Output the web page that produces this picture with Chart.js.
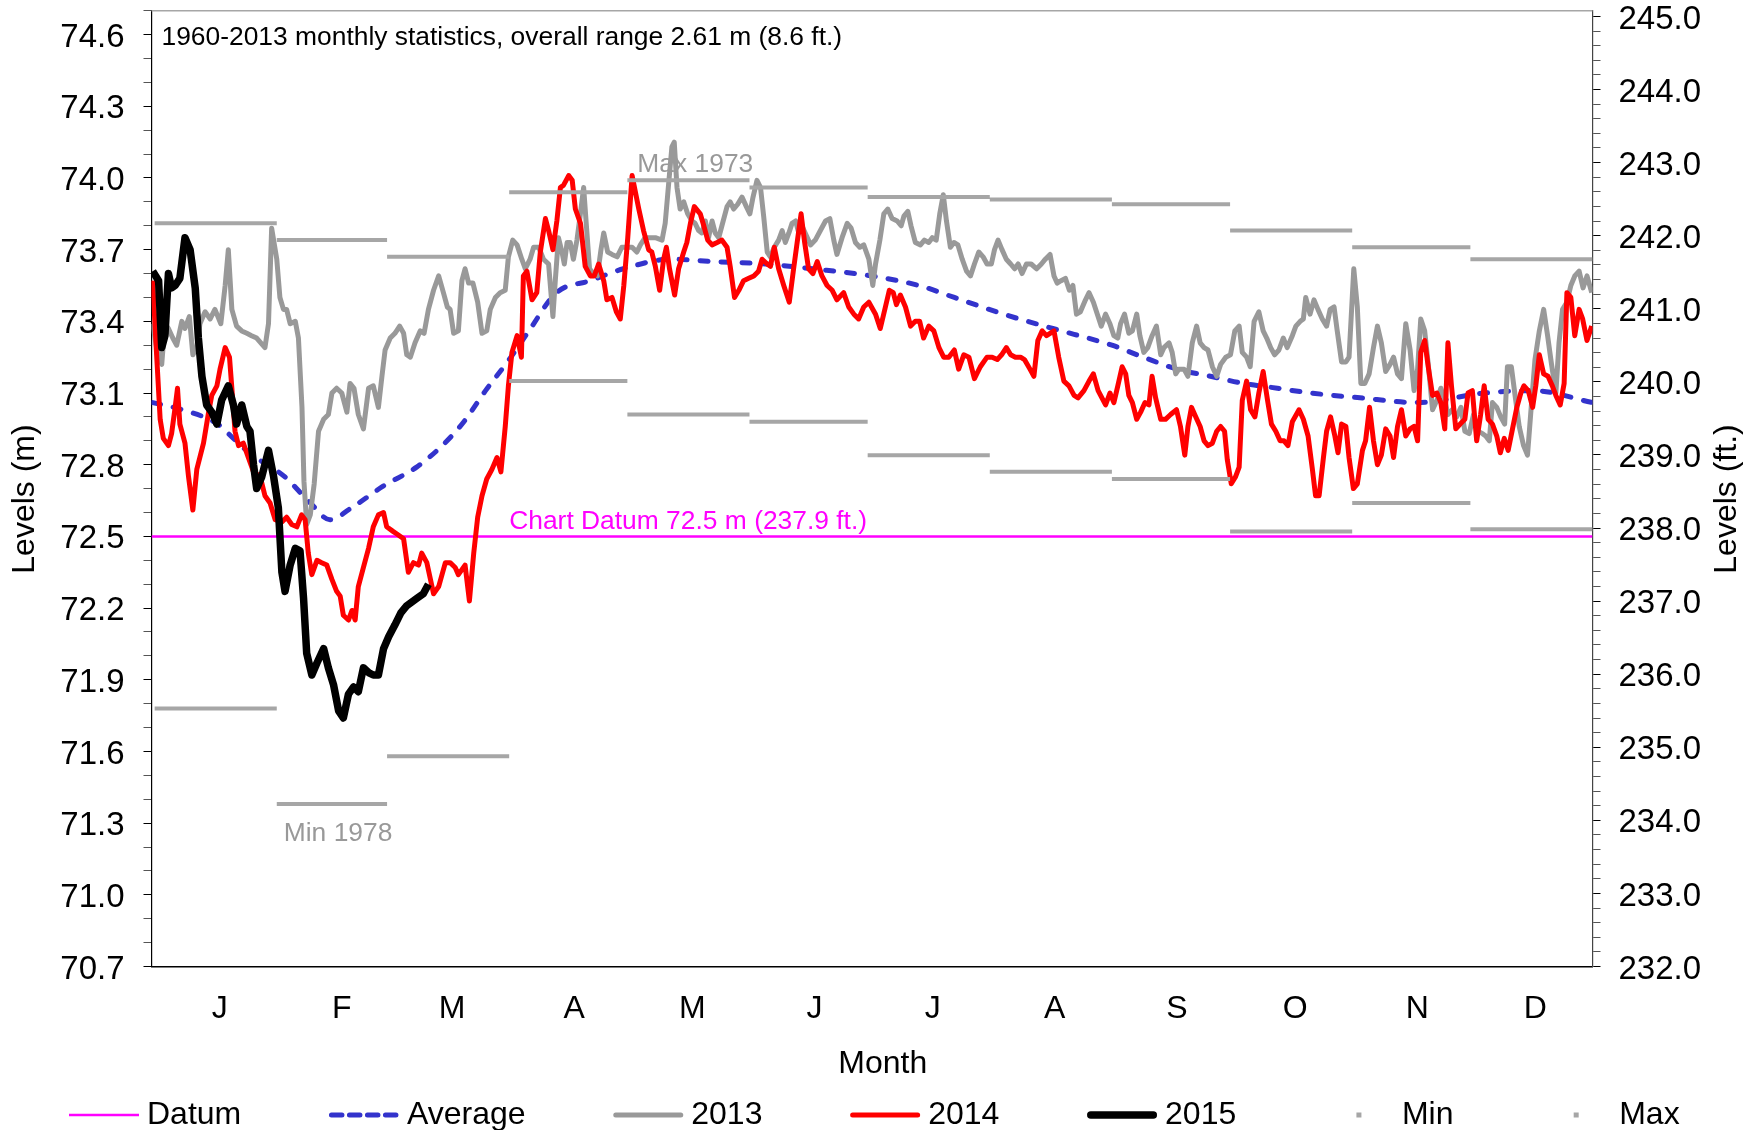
<!DOCTYPE html>
<html>
<head>
<meta charset="utf-8">
<script src="https://cdn.jsdelivr.net/npm/chart.js@4.4.1/dist/chart.umd.min.js"></script>
<style>
html,body{margin:0;padding:0;background:#fff;}
#wrap{width:1760px;height:1130px;}
</style>
</head>
<body>
<div id="wrap"><canvas id="c" width="1760" height="1130"></canvas></div>
<script>
// ---------------- DATA ----------------
const monthLabels = ['J','F','M','A','M','J','J','A','S','O','N','D'];
const monthStarts = [0,31,59,90,120,151,181,212,243,273,304,334];
const monthEnds   = [31,59,90,120,151,181,212,243,273,304,334,365];
const maxLevels = [73.81,73.74,73.67,73.94,73.99,73.96,73.92,73.91,73.89,73.78,73.71,73.66];
const minLevels = [71.78,71.38,71.58,73.15,73.01,72.98,72.84,72.77,72.74,72.52,72.64,72.53];
const datumLevel = 72.5;
const leftMajorTicks = [70.7,71.0,71.3,71.6,71.9,72.2,72.5,72.8,73.1,73.4,73.7,74.0,74.3,74.6];
const rightMajorTicks = [232,233,234,235,236,237,238,239,240,241,242,243,244,245];

const noteText  = '1960-2013 monthly statistics, overall range 2.61 m (8.6 ft.)';
const maxNote   = 'Max 1973';
const minNote   = 'Min 1978';
const datumNote = 'Chart Datum 72.5 m (237.9 ft.)';

// [day of year, level in m]
const averageLevels = [[-0.5,73.06],[7,73.03],[16,72.97],[20,72.91],[24,72.85],[33,72.75],[39.5,72.64],[44.5,72.57],[50,72.62],[58,72.71],[66.5,72.79],[73,72.88],[78.5,72.98],[84,73.11],[90,73.24],[95,73.36],[102,73.52],[110.5,73.57],[119,73.62],[131,73.66],[142,73.65],[155,73.64],[167,73.62],[182,73.59],[194,73.55],[203,73.50],[215.5,73.43],[228,73.37],[243,73.30],[251,73.25],[259.5,73.20],[268,73.17],[276.5,73.14],[285,73.12],[293.5,73.10],[306,73.08],[320.5,73.06],[337.5,73.10],[350,73.11],[365,73.06]];

const levels2013 = [[-0.5,73.39],[0.5,73.29],[1.8,73.22],[2.6,73.39],[3.5,73.37],[4.6,73.33],[5.6,73.30],[6.9,73.40],[7.7,73.37],[8.8,73.42],[9.7,73.26],[10.7,73.29],[11.5,73.39],[12.8,73.44],[14.1,73.41],[15.3,73.45],[16.8,73.39],[17.9,73.55],[18.7,73.70],[19.6,73.45],[20.8,73.38],[22.1,73.36],[23.4,73.35],[24.6,73.34],[25.9,73.33],[28,73.29],[28.9,73.39],[29.7,73.79],[31,73.66],[31.8,73.50],[32.7,73.45],[33.5,73.45],[34.4,73.39],[35.7,73.40],[36.5,73.33],[37.4,73.04],[37.9,72.73],[38.6,72.55],[39.5,72.59],[40.5,72.72],[41.6,72.94],[42.9,72.99],[44.1,73.01],[45,73.10],[46.2,73.12],[47.5,73.10],[48.8,73.02],[49.6,73.14],[50.6,73.12],[51.7,73.01],[53,72.95],[54.3,73.12],[55.5,73.13],[56.8,73.04],[57.7,73.17],[58.5,73.28],[59.8,73.33],[61,73.35],[62.2,73.38],[63.2,73.35],[64,73.26],[64.9,73.25],[66.1,73.31],[67.4,73.36],[68.4,73.35],[69.5,73.45],[70.8,73.53],[72.1,73.59],[73.3,73.52],[74.3,73.46],[75,73.45],[75.9,73.35],[77.1,73.36],[78,73.57],[78.8,73.62],[79.7,73.56],[80.8,73.56],[82,73.48],[83.1,73.35],[84.3,73.36],[85.2,73.45],[86.5,73.50],[87.7,73.52],[89,73.53],[89.8,73.67],[90.9,73.74],[92,73.72],[93.2,73.66],[94.1,73.62],[95.3,73.66],[96.2,73.71],[97.5,73.71],[98.7,73.66],[100,73.64],[101.1,73.42],[101.7,73.57],[102.5,73.75],[103.4,73.69],[104,73.64],[104.7,73.73],[105.5,73.73],[106.3,73.66],[107.2,73.74],[108,73.84],[108.9,73.96],[109.6,73.80],[110.4,73.62],[111.4,73.60],[112.4,73.59],[113.3,73.70],[114,73.77],[115,73.69],[116.1,73.68],[117.4,73.67],[118.6,73.71],[119.9,73.71],[121.2,73.71],[122.4,73.69],[123.3,73.72],[124.5,73.75],[125.8,73.75],[127.1,73.75],[128.8,73.74],[129.6,73.81],[130.5,73.98],[131.3,74.13],[131.9,74.15],[132.6,73.96],[133.4,73.87],[134.3,73.90],[135.3,73.85],[136.4,73.82],[137.2,73.81],[138.1,73.78],[138.9,73.77],[139.8,73.82],[140.6,73.75],[141.5,73.82],[142.3,73.77],[143.2,73.75],[144,73.80],[145.3,73.88],[146.1,73.90],[147,73.87],[148,73.89],[149.1,73.92],[150.2,73.88],[151.1,73.85],[151.9,73.92],[152.9,73.99],[153.8,73.96],[154.6,73.84],[155.5,73.69],[156.3,73.67],[157.3,73.71],[158.4,73.74],[159.3,73.78],[160.1,73.73],[161,73.77],[161.8,73.81],[162.7,73.82],[163.5,73.77],[164.3,73.80],[165.4,73.76],[166.5,73.72],[167.7,73.74],[169,73.78],[170.3,73.82],[171.4,73.83],[172.4,73.74],[173.2,73.68],[174.5,73.75],[175.8,73.81],[176.8,73.79],[177.9,73.73],[179,73.71],[180,73.72],[181.3,73.66],[182.3,73.55],[183,73.64],[184.1,73.74],[185.1,73.85],[186.1,73.87],[187.2,73.83],[188.5,73.82],[189.5,73.80],[190.2,73.84],[191.2,73.86],[192,73.80],[193.1,73.73],[194.4,73.72],[195.4,73.74],[196.5,73.73],[197.4,73.75],[198.4,73.74],[199.3,73.85],[200.2,73.93],[201,73.82],[202,73.71],[202.9,73.73],[203.9,73.72],[205,73.66],[206.1,73.61],[207.1,73.59],[208.1,73.64],[209.2,73.69],[210.3,73.67],[211.3,73.64],[212.4,73.64],[213.2,73.70],[214.1,73.74],[215.1,73.70],[216.2,73.66],[217.3,73.64],[218.3,73.62],[219.2,73.64],[220.2,73.60],[221.3,73.64],[222.5,73.64],[223.9,73.62],[225.1,73.64],[226.1,73.66],[227.3,73.68],[228.3,73.59],[229.1,73.56],[230.1,73.57],[231.2,73.58],[232.2,73.53],[233.1,73.55],[234,73.43],[235,73.44],[236.3,73.49],[237.2,73.52],[238.3,73.48],[239.3,73.43],[240.3,73.38],[241.4,73.43],[242.5,73.39],[243.5,73.34],[244.5,73.33],[245.2,73.39],[246.2,73.43],[247.3,73.35],[248.2,73.36],[249.3,73.43],[250.1,73.34],[251.1,73.27],[252.1,73.29],[253.2,73.34],[254.3,73.38],[255.4,73.26],[256.2,73.29],[257.5,73.31],[258.3,73.27],[259.2,73.18],[260,73.20],[261.3,73.20],[262.3,73.17],[263.4,73.31],[264.5,73.38],[265.4,73.31],[266.4,73.29],[267.4,73.28],[268.5,73.21],[269.6,73.17],[270.6,73.22],[271.9,73.25],[273.1,73.26],[274.2,73.36],[275.3,73.38],[276.1,73.27],[277.2,73.25],[278.1,73.21],[279.1,73.40],[280.3,73.44],[281.4,73.36],[282.3,73.33],[283.3,73.29],[284.3,73.26],[285.4,73.28],[286.5,73.33],[287.5,73.29],[288.8,73.34],[289.7,73.38],[290.8,73.40],[291.6,73.41],[292.2,73.50],[293.3,73.43],[294.3,73.49],[295.3,73.45],[296.4,73.41],[297.5,73.38],[298.4,73.45],[299.4,73.46],[300.2,73.36],[301.3,73.23],[302.4,73.23],[303.2,73.25],[304.4,73.62],[305.3,73.46],[306.2,73.14],[307.2,73.14],[308.3,73.18],[309.4,73.29],[310.4,73.38],[311.4,73.31],[312.5,73.19],[313.6,73.22],[314.5,73.25],[315.5,73.18],[316.5,73.16],[317.6,73.39],[318.7,73.28],[319.7,73.11],[320.6,73.20],[321.4,73.41],[322.4,73.36],[323.3,73.22],[324.4,73.03],[325.5,73.07],[326.5,73.12],[327.5,73.07],[328.3,73.01],[329.4,73.03],[330.5,73.00],[331.6,73.04],[332.6,72.94],[333.7,72.93],[334.8,73.01],[335.9,72.94],[337.1,72.93],[337.9,72.92],[338.8,72.90],[339.6,73.06],[340.7,73.04],[341.7,73.00],[342.7,72.97],[343.4,73.21],[344.4,73.21],[345.5,73.07],[346.4,72.96],[347.5,72.88],[348.5,72.84],[349.3,73.01],[350.4,73.24],[351.5,73.36],[352.6,73.45],[353.6,73.34],[354.6,73.22],[355.7,73.10],[356.5,73.31],[357.4,73.45],[358.5,73.48],[359.5,73.55],[360.5,73.59],[361.6,73.61],[362.6,73.54],[363.6,73.59],[364.8,73.52]];

const levels2014 = [[-0.5,73.57],[0.5,73.26],[1.4,72.99],[2.2,72.91],[3.5,72.88],[4.3,72.93],[5.2,73.04],[5.8,73.12],[6.4,72.97],[7.7,72.89],[8.6,72.75],[9.7,72.61],[10.7,72.78],[12.4,72.89],[13.6,73.01],[14.5,73.09],[15.8,73.13],[16.6,73.20],[17.9,73.29],[19,73.25],[19.6,73.12],[20.4,72.94],[21.3,72.88],[22.5,72.89],[23.8,72.83],[25.1,72.77],[26.8,72.75],[28,72.67],[29.3,72.64],[30.6,72.57],[32.3,72.56],[33.5,72.58],[34.8,72.55],[36.1,72.54],[37.3,72.59],[38.2,72.57],[39,72.43],[39.9,72.34],[41.2,72.40],[42.4,72.39],[43.7,72.38],[45,72.32],[46.2,72.27],[47.1,72.25],[47.9,72.17],[49.2,72.15],[50.1,72.19],[50.9,72.15],[51.7,72.29],[53,72.37],[54.3,72.45],[55.5,72.54],[56.8,72.59],[58.1,72.60],[58.9,72.54],[60.6,72.52],[61.5,72.51],[63.2,72.49],[64.4,72.35],[65.7,72.39],[67,72.38],[67.8,72.43],[69.1,72.39],[70.8,72.26],[72.1,72.29],[73.8,72.39],[75,72.39],[76.3,72.37],[77.1,72.34],[78.8,72.38],[79.9,72.23],[81,72.43],[82,72.58],[83.1,72.67],[84.3,72.74],[85.6,72.78],[86.9,72.83],[87.9,72.77],[89,72.96],[89.8,73.13],[90.7,73.27],[92,73.34],[93.1,73.25],[93.6,73.59],[94.5,73.61],[95.8,73.49],[97,73.52],[97.9,73.69],[99.2,73.83],[100,73.78],[101.1,73.70],[102.1,73.82],[103,73.96],[103.8,73.97],[105.1,74.01],[106,73.99],[106.8,73.87],[108.1,73.81],[109.3,73.63],[110.6,73.59],[111.6,73.59],[112.7,73.64],[114,73.57],[114.8,73.49],[116.1,73.50],[117.2,73.44],[118.2,73.41],[119.1,73.55],[120.1,73.75],[121.2,74.01],[122.9,73.87],[124.1,73.78],[125.4,73.70],[126.2,73.69],[127.1,73.63],[128.2,73.53],[129.2,73.66],[129.9,73.71],[130.7,73.62],[132,73.51],[133,73.62],[134.3,73.69],[135.1,73.73],[136,73.81],[137,73.88],[138.5,73.85],[139.4,73.80],[140.4,73.74],[141.5,73.72],[142.8,73.73],[144,73.74],[145.3,73.71],[146.1,73.63],[147.2,73.50],[148.3,73.53],[149.5,73.57],[150.8,73.58],[152.1,73.59],[153.3,73.61],[154.2,73.66],[155.5,73.64],[156.3,73.63],[157.3,73.71],[158.4,73.62],[159.7,73.55],[161.1,73.48],[162.2,73.62],[163.1,73.73],[164.1,73.85],[165,73.73],[166,73.62],[167.1,73.60],[168.2,73.65],[169.4,73.59],[170.7,73.55],[172,73.53],[173.2,73.49],[174.9,73.52],[176.2,73.46],[177.5,73.43],[178.7,73.41],[180,73.46],[181.3,73.48],[183,73.43],[184.2,73.37],[185.5,73.46],[186.5,73.53],[187.5,73.52],[188.3,73.47],[189.3,73.51],[190.6,73.46],[191.9,73.38],[193.1,73.40],[194.2,73.40],[195.2,73.33],[196.5,73.38],[197.8,73.36],[199.1,73.29],[200.3,73.25],[201.6,73.25],[203,73.28],[204.1,73.20],[205.4,73.26],[206.7,73.25],[208.1,73.16],[209.6,73.21],[211.3,73.25],[212.6,73.25],[213.9,73.24],[215,73.26],[216.2,73.29],[217.3,73.26],[218.5,73.25],[219.8,73.25],[220.8,73.24],[222.2,73.20],[223.2,73.17],[224.2,73.32],[225.3,73.36],[226.4,73.34],[228.3,73.36],[229.5,73.25],[230.8,73.15],[232.1,73.13],[233.4,73.09],[234.4,73.08],[235.9,73.11],[237.2,73.15],[238.3,73.18],[239.5,73.11],[241.4,73.05],[242.5,73.10],[243.5,73.06],[244.5,73.13],[245.6,73.21],[246.5,73.18],[247.3,73.09],[248.2,73.06],[249.3,72.99],[250.3,73.02],[251.4,73.06],[252.4,73.05],[253.2,73.17],[254.1,73.08],[255.4,72.99],[256.6,72.99],[257.9,73.01],[259.4,73.03],[260.4,72.96],[261.5,72.84],[262.3,72.96],[263.2,73.04],[264.3,73.00],[265.4,72.96],[266.4,72.90],[267.4,72.88],[268.5,72.89],[269.6,72.94],[270.6,72.96],[271.6,72.94],[272.3,72.82],[273.3,72.72],[274.4,72.75],[275.3,72.79],[276.1,73.07],[277.2,73.15],[278.2,73.03],[279.3,73.00],[280.3,73.10],[281.4,73.19],[282.5,73.07],[283.5,72.97],[284.6,72.94],[285.7,72.90],[286.7,72.90],[287.7,72.88],[288.8,72.98],[290.5,73.03],[291.6,72.99],[292.8,72.92],[293.9,72.78],[294.7,72.67],[295.6,72.67],[296.7,72.83],[297.5,72.94],[298.5,73.00],[299.6,72.92],[300.4,72.85],[301.3,72.97],[302.4,72.96],[303.2,72.83],[304.3,72.70],[305.3,72.72],[306.6,72.86],[307.4,72.90],[308.4,73.04],[309.4,72.90],[310.4,72.80],[311.4,72.84],[312.5,72.95],[313.6,72.92],[314.5,72.83],[315.5,72.96],[316.5,73.03],[317.6,72.92],[318.7,72.95],[319.7,72.96],[320.6,72.90],[321.4,73.27],[322.4,73.32],[323.3,73.21],[324.4,73.09],[325.5,73.10],[326.5,73.06],[327.5,72.95],[328.3,73.31],[329.2,73.13],[330.3,72.95],[331.4,72.97],[332.6,72.99],[333.4,73.10],[334.5,73.11],[335.6,72.90],[336.6,73.01],[337.5,73.13],[338.5,72.99],[339.6,72.97],[340.7,72.92],[341.6,72.85],[342.6,72.91],[343.6,72.86],[344.7,72.95],[345.8,73.04],[346.8,73.10],[347.6,73.13],[348.7,73.11],[349.8,73.04],[350.6,73.13],[351.5,73.26],[352.6,73.18],[353.7,73.17],[354.8,73.13],[355.7,73.09],[356.8,73.05],[357.8,73.14],[358.5,73.52],[359.5,73.50],[360.5,73.34],[361.6,73.45],[362.5,73.41],[363.6,73.32],[364.8,73.38]];

const levels2015 = [[-0.5,73.61],[1,73.57],[1.8,73.29],[2.6,73.34],[3.5,73.60],[4.3,73.54],[5.2,73.55],[6.4,73.58],[7.7,73.75],[9,73.70],[10.3,73.54],[11.1,73.33],[12,73.17],[13.2,73.05],[14.5,73.02],[15.8,72.97],[17,73.07],[18.7,73.13],[20,73.05],[20.8,72.97],[22.1,73.05],[23.4,72.96],[24.2,72.94],[25.1,72.80],[25.9,72.70],[27.2,72.75],[28.9,72.86],[30.2,72.75],[31.4,72.62],[32.3,72.35],[33.1,72.27],[34.4,72.38],[35.7,72.45],[36.9,72.44],[37.8,72.24],[38.6,72.01],[39.9,71.92],[41.2,71.97],[42.9,72.03],[44.1,71.95],[45.4,71.88],[46.7,71.77],[47.9,71.74],[49.2,71.84],[50.5,71.87],[51.7,71.85],[53,71.95],[54.3,71.93],[55.5,71.92],[56.8,71.92],[58.1,72.03],[59.4,72.08],[61,72.13],[62.5,72.18],[64,72.21],[66.5,72.24],[68.2,72.26],[69.5,72.30]];

// ---------------- SETUP ----------------
const FONT = '"Liberation Sans", Arial, Helvetica, sans-serif';
Chart.defaults.font.family = FONT;
Chart.defaults.color = '#000';

const X_MIN = -0.8, X_MAX = 365;
const Y_MIN = 70.7, Y_MAX = 74.7;
const FT_MIN = 232.0, FT_MAX = 74.7 * 3.28084;
const MONTH_LABEL_OFFSET = 16.5;

const leftTickValues = [];
for (let i = 0; i <= 40; i++) leftTickValues.push(Math.round((Y_MIN + i * 0.1) * 10) / 10);
const rightTickValues = [];
for (let i = 0; i <= 65; i++) rightTickValues.push(Math.round((232 + i * 0.2) * 10) / 10);

const isIn = (arr, v) => arr.some(m => Math.abs(m - v) < 1e-6);
const toXY = arr => arr.map(p => ({x: p[0], y: p[1]}));
const stepData = levels => {
  const out = [];
  levels.forEach((v, i) => {
    out.push({x: monthStarts[i], y: v}, {x: monthEnds[i], y: v}, {x: monthEnds[i], y: null});
  });
  return out;
};

const LAYOUT = {
  leftAxisWidth: 151.5, rightAxisWidth: 167.5, xAxisHeight: 120,
  padTop: 10.7, padBottom: 43.5,
  legend: {x0: 69, y: 1115, sym: 70, gap: 8, pad: 87.7, dash: [10.5, 7.5], font: 32},
  titleFont: 32,
  titleLeft: {x: 25, y: 499}, titleRight: {x: 1727, y: 499}, titleX: {x: 882.8, y: 1064}
};

const legendItems = [
  {label: 'Datum', kind: 'line'}, {label: 'Average', kind: 'line'},
  {label: '2013', kind: 'line'}, {label: '2014', kind: 'line'}, {label: '2015', kind: 'line'},
  {label: 'Min', kind: 'dot'}, {label: 'Max', kind: 'dot'}
];

const overlayPlugin = {
  id: 'overlay',
  beforeDatasetsDraw(chart) {
    const {ctx, chartArea, scales} = chart;
    const xs = scales.x, ys = scales.y;
    ctx.save();
    ctx.strokeStyle = '#a6a6a6';
    ctx.lineWidth = 1.5;
    ctx.beginPath();
    ctx.moveTo(chartArea.left, chartArea.top);
    ctx.lineTo(chartArea.right, chartArea.top);
    ctx.stroke();

    ctx.font = '26.4px ' + FONT;
    ctx.textBaseline = 'middle';
    ctx.textAlign = 'left';
    ctx.fillStyle = '#000';
    ctx.fillText(noteText, chartArea.left + 10, chartArea.top + 27);
    ctx.fillStyle = '#999999';
    ctx.fillText(maxNote, xs.getPixelForValue(monthStarts[4]) + 10, ys.getPixelForValue(maxLevels[4]) - 16);
    ctx.fillText(minNote, xs.getPixelForValue(monthStarts[1]) + 7, ys.getPixelForValue(minLevels[1]) + 29.5);
    ctx.fillStyle = '#ff00ff';
    ctx.fillText(datumNote, xs.getPixelForValue(monthStarts[3]), ys.getPixelForValue(datumLevel) - 14.7);
    ctx.restore();
  },
  afterDraw(chart) {
    const ctx = chart.ctx;
    ctx.save();
    ctx.font = LAYOUT.titleFont + 'px ' + FONT;
    ctx.fillStyle = '#000';
    ctx.textAlign = 'center';
    ctx.textBaseline = 'middle';
    // axis titles
    ctx.save();
    ctx.translate(LAYOUT.titleLeft.x, LAYOUT.titleLeft.y);
    ctx.rotate(-Math.PI / 2);
    ctx.fillText('Levels (m)', 0, 0);
    ctx.restore();
    ctx.save();
    ctx.translate(LAYOUT.titleRight.x, LAYOUT.titleRight.y);
    ctx.rotate(-Math.PI / 2);
    ctx.fillText('Levels (ft.)', 0, 0);
    ctx.restore();
    ctx.fillText('Month', LAYOUT.titleX.x, LAYOUT.titleX.y);

    // legend
    const L = LAYOUT.legend;
    ctx.font = L.font + 'px ' + FONT;
    ctx.textAlign = 'left';
    let x = L.x0;
    const y = L.y;
    legendItems.forEach(item => {
      const ds = chart.data.datasets.find(d => d.label === item.label);
      ctx.strokeStyle = ds.borderColor;
      ctx.fillStyle = ds.borderColor;
      if (item.kind === 'line') {
        const round = item.label !== 'Datum';
        ctx.lineWidth = ds.borderWidth;
        ctx.lineCap = round ? 'round' : 'butt';
        ctx.setLineDash(ds.borderDash ? L.dash : []);
        const inset = round ? ds.borderWidth / 2 : 0;
        ctx.beginPath();
        ctx.moveTo(x + inset, y);
        ctx.lineTo(x + L.sym - inset, y);
        ctx.stroke();
        ctx.setLineDash([]);
      } else {
        ctx.fillRect(x + L.sym / 2 - 2.5, y - 2.5, 5, 5);
      }
      ctx.fillStyle = '#000';
      const tx = x + L.sym + L.gap;
      ctx.fillText(item.label, tx, y);
      x = tx + ctx.measureText(item.label).width + L.pad;
    });
    ctx.restore();
  }
};

const lineBase = {pointRadius: 0, pointHoverRadius: 0, fill: false, tension: 0, spanGaps: false,
  borderJoinStyle: 'round', xAxisID: 'x', yAxisID: 'y'};

const tickColor = ctx => (ctx.tick && ctx.tick.label) ? '#000000' : '#555555';

new Chart(document.getElementById('c'), {
  type: 'line',
  data: {
    datasets: [
      Object.assign({}, lineBase, {label: 'Datum', data: [{x: X_MIN, y: datumLevel}, {x: X_MAX, y: datumLevel}],
        borderColor: '#ff00ff', borderWidth: 2.5, order: 7}),
      Object.assign({}, lineBase, {label: 'Average', data: toXY(averageLevels), borderColor: '#3333cc',
        borderWidth: 5, borderDash: [8, 13], borderCapStyle: 'round', cubicInterpolationMode: 'monotone', order: 6}),
      Object.assign({}, lineBase, {label: '2013', data: toXY(levels2013), borderColor: '#999999', borderWidth: 5, order: 5}),
      Object.assign({}, lineBase, {label: '2014', data: toXY(levels2014), borderColor: '#ff0000', borderWidth: 5, order: 4}),
      Object.assign({}, lineBase, {label: '2015', data: toXY(levels2015), borderColor: '#000000', borderWidth: 7.5, order: 3}),
      Object.assign({}, lineBase, {label: 'Min', data: stepData(minLevels), borderColor: '#a6a6a6', borderWidth: 4, order: 2}),
      Object.assign({}, lineBase, {label: 'Max', data: stepData(maxLevels), borderColor: '#a6a6a6', borderWidth: 4, order: 1})
    ]
  },
  options: {
    responsive: false,
    animation: false,
    devicePixelRatio: 1,
    events: [],
    layout: {padding: {left: 0, right: 0, top: LAYOUT.padTop, bottom: LAYOUT.padBottom}},
    plugins: {legend: {display: false}, tooltip: {enabled: false}, title: {display: false}},
    scales: {
      x: {
        type: 'linear', position: 'bottom', min: X_MIN, max: X_MAX,
        grid: {display: false, drawTicks: false},
        border: {display: true, color: '#000', width: 1.5},
        ticks: {autoSkip: false, maxRotation: 0, minRotation: 0, padding: 23.5, color: '#000',
          font: {size: 32}, callback: (v, i) => monthLabels[i]},
        afterBuildTicks: s => { s.ticks = monthStarts.map(d => ({value: d + MONTH_LABEL_OFFSET})); },
        afterFit: s => { s.height = LAYOUT.xAxisHeight; s.paddingLeft = 0; s.paddingRight = 0; }
      },
      y: {
        type: 'linear', position: 'left', min: Y_MIN, max: Y_MAX,
        grid: {drawOnChartArea: false, drawTicks: true, tickLength: 8, color: tickColor, lineWidth: 1},
        border: {display: true, color: '#000', width: 1.2},
        ticks: {autoSkip: false, padding: 19, labelOffset: 3, color: '#000', font: {size: 33},
          callback: v => isIn(leftMajorTicks, v) ? v.toFixed(1) : ''},
        afterBuildTicks: s => { s.ticks = leftTickValues.map(v => ({value: v})); },
        afterFit: s => { s.width = LAYOUT.leftAxisWidth; s.paddingTop = 0; s.paddingBottom = 0; }
      },
      y2: {
        type: 'linear', position: 'right', min: FT_MIN, max: FT_MAX,
        grid: {drawOnChartArea: false, drawTicks: true, tickLength: 8, color: tickColor, lineWidth: 1},
        border: {display: true, color: '#444', width: 1.2},
        ticks: {autoSkip: false, padding: 18, labelOffset: 3, color: '#000', font: {size: 33},
          callback: v => isIn(rightMajorTicks, v) ? v.toFixed(1) : ''},
        afterBuildTicks: s => { s.ticks = rightTickValues.map(v => ({value: v})); },
        afterFit: s => { s.width = LAYOUT.rightAxisWidth; s.paddingTop = 0; s.paddingBottom = 0; }
      }
    }
  },
  plugins: [overlayPlugin]
});
</script>
</body>
</html>
